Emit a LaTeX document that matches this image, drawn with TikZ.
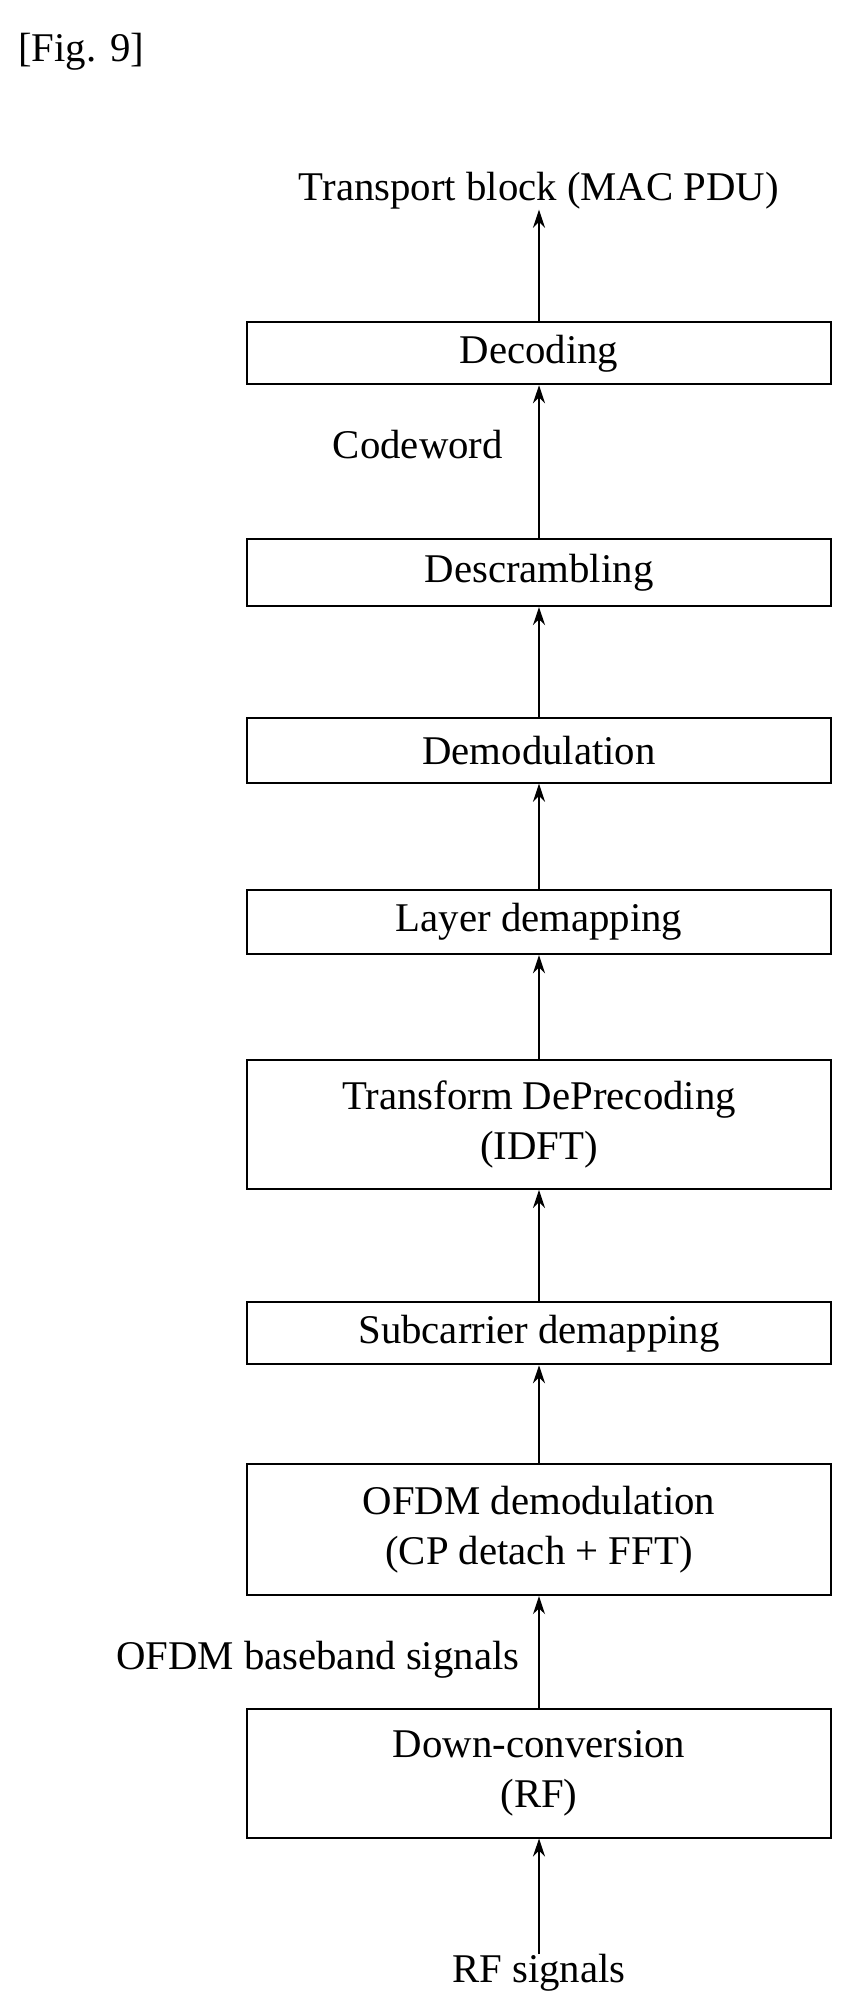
\documentclass[tikz,border=0pt]{standalone}
\usepackage{fontspec}
\setmainfont{Liberation Serif}
\usetikzlibrary{arrows.meta}
\begin{document}
\begin{tikzpicture}[x=0.03cm,y=-0.03cm,
  blk/.style={draw,line width=1.3pt,minimum width=13.59cm,align=center,inner sep=0pt},
  lbl/.style={inner sep=0pt},
  flow/.style={-{Stealth[length=12pt,width=8pt]},line width=0.9pt}]
\useasboundingbox (0,0) rectangle (660,1558);
\fontsize{27}{33}\selectfont
\node[lbl,anchor=west] (fig) at (14,40) {[Fig. 9]};
\node[lbl] (tb) at (418,148) {Transport block (MAC PDU)};
\node[blk,minimum height=1.44cm] (dec) at (418,274) {Decoding};
\node[lbl,anchor=west] (cw) at (258,345) {Codeword};
\node[blk,minimum height=1.56cm] (desc) at (418,444) {Descrambling};
\node[blk,minimum height=1.5cm] (demod) at (418,582) {Demodulation};
\node[blk,minimum height=1.5cm] (layer) at (418,715) {Layer demapping};
\node[blk,minimum height=3cm] (tdp) at (418,872) {Transform DePrecoding\\(IDFT)};
\node[blk,minimum height=1.44cm] (sub) at (418,1034) {Subcarrier demapping};
\node[blk,minimum height=3.06cm] (ofdm) at (418,1186) {OFDM demodulation\\(CP detach + FFT)};
\node[lbl,anchor=east] (bb) at (403,1287) {OFDM baseband signals};
\node[blk,minimum height=3cm] (down) at (418,1375) {Down-conversion\\(RF)};
\node[lbl] (rf) at (418,1530) {RF signals};
\draw[flow] (dec) -- (tb);
\draw[flow] (desc) -- (dec);
\draw[flow] (demod) -- (desc);
\draw[flow] (layer) -- (demod);
\draw[flow] (tdp) -- (layer);
\draw[flow] (sub) -- (tdp);
\draw[flow] (ofdm) -- (sub);
\draw[flow] (down) -- (ofdm);
\draw[flow] (rf) -- (down);
\end{tikzpicture}
\end{document}
